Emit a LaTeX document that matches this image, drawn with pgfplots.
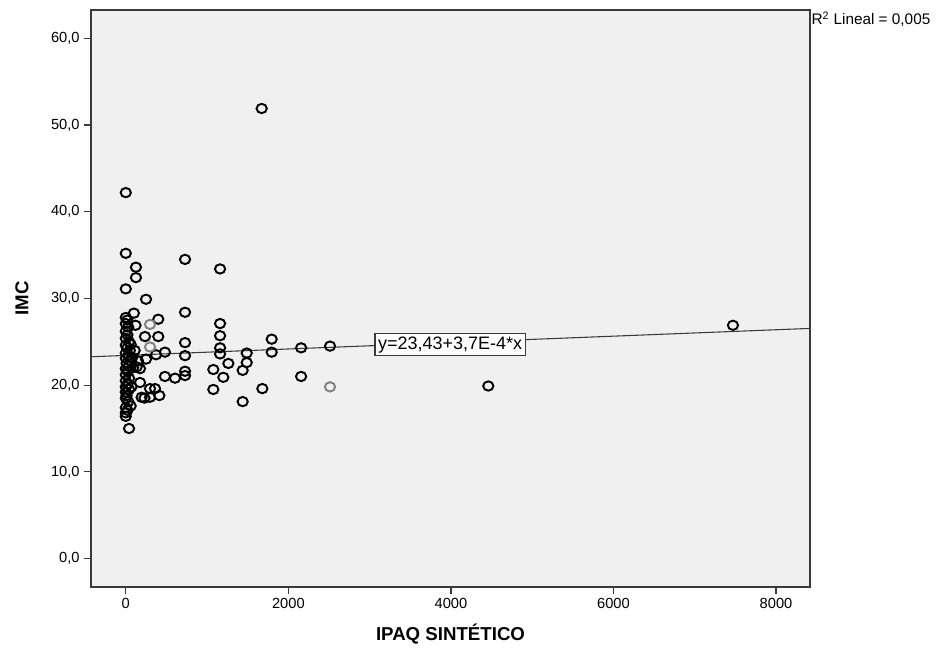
\documentclass[border=0pt]{standalone}
\usepackage{fontspec}
\setmainfont{Liberation Sans}
\usepackage{pgfplots}
\pgfplotsset{compat=1.18}
\definecolor{plotbg}{HTML}{F0F0F0}
\definecolor{frame}{HTML}{3A3A3A}
\begin{document}
\begin{tikzpicture}
\begin{axis}[
  scale only axis, width=539.25pt, height=432.75pt,
  xmin=-428, xmax=8418, ymin=-3.28, ymax=63.26,
  axis background/.style={fill=plotbg},
  axis line style={frame, line width=0.9pt},
  tick pos=left, tick align=outside, major tick length=5pt,
  tick style={frame, line width=0.9pt},
  xtick={0,2000,4000,6000,8000}, ytick={0,10,20,30,40,50,60},
  /pgf/number format/assume math mode=true,
  x tick label style={/pgf/number format/1000 sep={}, font=\fontsize{11}{13}\selectfont},
  y tick label style={/pgf/number format/fixed, /pgf/number format/fixed zerofill,
    /pgf/number format/precision=1, /pgf/number format/use comma,
    font=\fontsize{11}{13}\selectfont},
  xlabel={\textbf{IPAQ SINTÉTICO}},
  ylabel={\textbf{IMC}},
  label style={font=\fontsize{14}{16}\selectfont},
  xlabel style={at={(axis description cs:0.5,0)}, anchor=center, yshift=-35pt},
  ylabel style={at={([xshift=-51.75pt]axis description cs:0,0.5)}, anchor=center},
  clip mode=individual,
]
% fit line
\addplot[frame, line width=0.8pt] coordinates {(-428,23.27) (8418,26.54)};

% observations
\addplot[only marks, mark=o, mark size=3.5pt, mark options={line width=1.45pt, draw=black, xscale=1.1}] coordinates {
  (0,42.2) (0,35.2) (0,31.1) (0,27.8) (20,27.5) (0,27.1) (30,26.7) (0,26.2)
  (20,25.8) (0,25.4) (40,25.0) (0,24.6) (20,24.3) (50,24.0) (0,23.7) (30,23.4)
  (0,23.1) (60,22.8) (10,22.5) (40,22.2) (0,21.9) (20,21.6) (0,21.2) (40,20.8)
  (0,20.5) (20,20.1) (0,19.8) (40,19.5) (0,19.2) (10,18.8) (0,18.5) (30,18.1)
  (0,17.4) (20,17.1) (0,16.8) (0,16.4) (40,15.0) (60,17.6) (80,23.2) (60,24.7)
  (90,22.0) (70,19.8)
  (125,33.6) (125,32.4) (100,28.3) (249,29.9) (400,27.6) (236,25.6) (400,25.6)
  (482,23.8) (372,23.5) (249,23.0) (134,22.1) (175,21.9) (175,20.3) (482,21.0)
  (606,20.8) (298,19.6) (360,19.6) (195,18.6) (298,18.6) (413,18.8) (230,18.5)
  (120,26.9) (110,24.0) (150,22.8)
  (729,34.5) (729,28.4) (729,24.9) (729,23.4) (729,21.6) (729,21.1)
  (1160,33.4) (1160,27.1) (1160,25.7) (1160,24.3) (1160,23.6) (1262,22.5)
  (1077,21.8) (1200,20.9) (1077,19.5)
  (1488,23.7) (1488,22.6) (1438,21.7) (1438,18.1) (1680,19.6) (1672,51.9)
  (1795,25.3) (1795,23.8) (2157,24.3) (2157,21.0) (2513,24.5)
  (4460,19.9) (7470,26.9)
};
\addplot[only marks, mark=o, mark size=3.5pt, mark options={line width=1.45pt, draw=black!50, xscale=1.1}] coordinates {
  (298,27.0) (298,24.4) (2513,19.8)
};

\node[draw=frame, fill=white, line width=0.8pt, inner sep=2.3pt,
  font=\fontsize{13.5}{15}\selectfont] at (axis cs:3990,24.67) {y=23,43+3,7E-4*x};
\end{axis}
\node[anchor=north west, inner sep=1pt, font=\fontsize{11.5}{13}\selectfont]
  at (current axis.north east) {R\textsuperscript{2} Lineal = 0,005};
\path ([xshift=-68.25pt,yshift=-45pt]current axis.south west)
  rectangle ([xshift=97.5pt,yshift=7.5pt]current axis.north east);
\end{tikzpicture}
\end{document}
